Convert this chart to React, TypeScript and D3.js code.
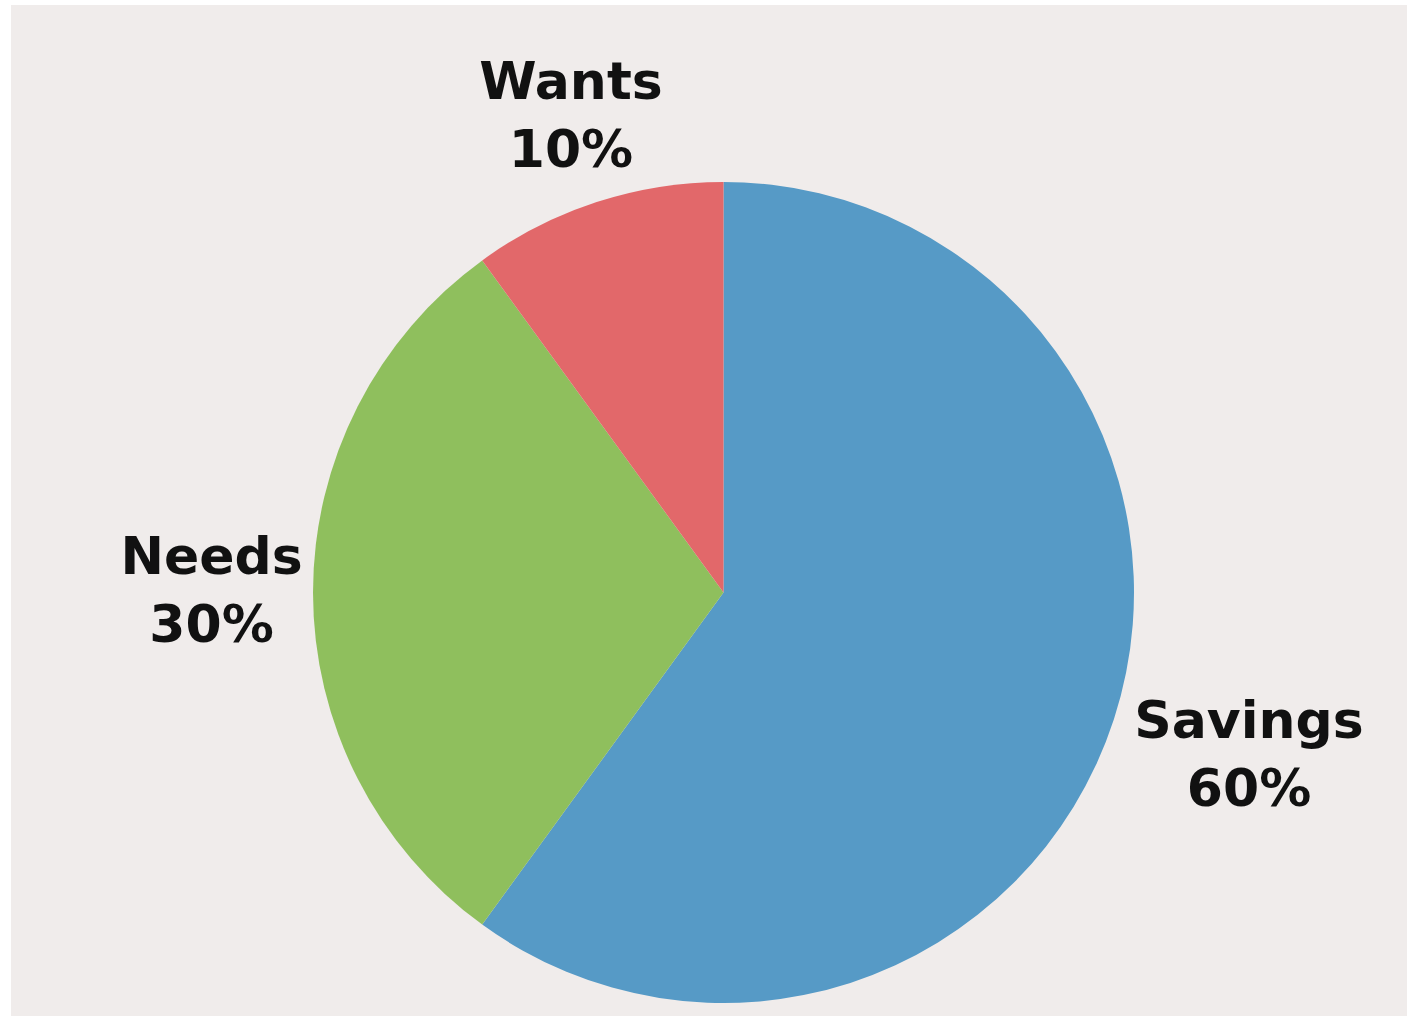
import React from "react";
import * as d3 from "d3";

const categories = ["Savings", "Needs", "Wants"];
const values = [60, 30, 10];
const colors = ["#569AC6", "#8FBF5D", "#E2686A"];

const W = 1407;
const H = 1016;
const CX = 723.5;
const CY = 592.5;
const R = 410.5;
const LABEL_R = 500;
const nudges: Record<string, [number, number]> = {
  Savings: [50, 9],
  Needs: [-12, -1],
  Wants: [2, 0],
};

export default function App() {
  const data = categories.map((c, i) => ({ name: c, value: values[i], color: colors[i] }));
  const pie = d3
    .pie<{ name: string; value: number; color: string }>()
    .sort(null)
    .value((d) => d.value)
    .startAngle(0)
    .endAngle(2 * Math.PI);
  const arcs = pie(data);
  const arc = d3
    .arc<d3.PieArcDatum<{ name: string; value: number; color: string }>>()
    .innerRadius(0)
    .outerRadius(R);
  const total = d3.sum(values);

  return (
    <svg
      width={W}
      height={H}
      style={{ position: "absolute", left: 0, top: 0, display: "block" }}
    >
      <rect x={0} y={0} width={W} height={H} fill="#ffffff" />
      <rect x={11} y={5} width={W - 11} height={H - 5} fill="#F0ECEB" />
      <g transform={`translate(${CX},${CY})`}>
        {arcs.map((a) => (
          <path key={a.data.name} d={arc(a) || ""} fill={a.data.color} />
        ))}
      </g>
      {arcs.map((a) => {
        const mid = (a.startAngle + a.endAngle) / 2;
        const [dx, dy] = nudges[a.data.name];
        const x = CX + LABEL_R * Math.sin(mid) + dx;
        const y = CY - LABEL_R * Math.cos(mid) + dy;
        const pct = Math.round((a.data.value / total) * 100);
        return (
          <text
            key={a.data.name}
            x={x}
            textAnchor="middle"
            fontFamily="'DejaVu Sans', sans-serif"
            fontWeight="bold"
            fontSize={52}
            fill="#111111"
          >
            <tspan x={x} y={y - 18}>
              {a.data.name}
            </tspan>
            <tspan x={x} y={y + 50}>
              {pct}%
            </tspan>
          </text>
        );
      })}
    </svg>
  );
}
